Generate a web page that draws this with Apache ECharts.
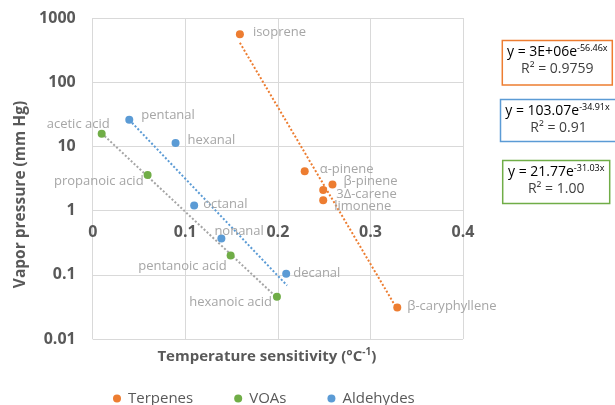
<!DOCTYPE html>
<html>
<head>
<meta charset="utf-8">
<script src="https://cdn.jsdelivr.net/npm/echarts@6/dist/echarts.min.js"></script>
<style>
html,body{margin:0;padding:0;background:#fff;}
#c{width:615px;height:405px;}
</style>
</head>
<body>
<div id="c"></div>
<script>
// ---- data ----
const terpeneNames = ['isoprene', 'α-pinene', 'β-pinene', '3Δ-carene', 'limonene', 'β-caryphyllene'];
const terpeneX = [0.159, 0.229, 0.259, 0.249, 0.249, 0.329];
const terpeneY = [557, 4.1, 2.55, 2.1, 1.45, 0.031];

const voaNames = ['acetic acid', 'propanoic acid', 'pentanoic acid', 'hexanoic acid'];
const voaX = [0.0097, 0.0593, 0.149, 0.199];
const voaY = [15.8, 3.6, 0.199, 0.0457];

const aldNames = ['pentanal', 'hexanal', 'octanal', 'nonanal', 'decanal'];
const aldX = [0.0395, 0.0895, 0.1096, 0.139, 0.209];
const aldY = [26.1, 11.3, 1.2, 0.366, 0.104];

// trendline end points (as drawn in the reference)
const terpeneTrendX = [0.159, 0.329];
const terpeneTrendY = [410, 0.029];
const voaTrendX = [0.0097, 0.199];
const voaTrendY = [16.0, 0.044];
const aldTrendX = [0.0395, 0.21];
const aldTrendY = [25.9, 0.068];

const xTickLabels = ['0', '0.1', '0.2', '0.3', '0.4'];
const yTickLabels = ['0.01', '0.1', '1', '10', '100', '1000'];

const legendNames = ['Terpenes', 'VOAs', 'Aldehydes'];
const equations = [
  {main: 'y = 3E+06e', sup: '-56.46x', r2: 'R² = 0.9759'},
  {main: 'y = 103.07e', sup: '-34.91x', r2: 'R² = 0.91'},
  {main: 'y = 21.77e', sup: '-31.03x', r2: 'R² = 1.00'}
];

// ---- styling ----
const COLORS = {Terpenes: '#ED7D31', VOAs: '#70AD47', Aldehydes: '#5B9BD5'};
const FONT = 'Open Sans';
const SYM = 8;
// label anchor relative to point centre: [dx, dy, align]
const labelPos = {
  'isoprene': [13, -2, 'left'],
  'α-pinene': [15, -2, 'left'],
  'β-pinene': [11, -3, 'left'],
  '3Δ-carene': [13, 4, 'left'],
  'limonene': [11, 6, 'left'],
  'β-caryphyllene': [10, -1, 'left'],
  'pentanal': [12, -4, 'left'],
  'hexanal': [12, -3, 'left'],
  'octanal': [9, -1, 'left'],
  'nonanal': [-7, -7, 'left'],
  'decanal': [7, 0, 'left'],
  'acetic acid': [8, -9, 'right'],
  'propanoic acid': [-4, 6, 'right'],
  'pentanoic acid': [-4, 11, 'right'],
  'hexanoic acid': [-5, 6, 'right']
};

function pts(names, xs, ys) {
  return names.map((n, i) => {
    const p = labelPos[n] || [8, 0, 'left'];
    return {
      name: n,
      value: [xs[i], ys[i]],
      label: {position: [p[0] + SYM / 2, p[1] + SYM / 2], align: p[2], verticalAlign: 'middle'}
    };
  });
}
function line(xs, ys) { return xs.map((x, i) => [x, ys[i]]); }

const labelStyle = {
  show: true,
  formatter: '{b}',
  color: '#A6A6A6',
  fontFamily: FONT,
  fontSize: 13
};

function scatter(name, names, xs, ys) {
  return {
    name: name, type: 'scatter', symbol: 'circle', symbolSize: SYM,
    itemStyle: {color: COLORS[name], opacity: 1},
    label: labelStyle,
    labelLayout: {hideOverlap: false},
    emphasis: {disabled: true},
    z: 5,
    data: pts(names, xs, ys)
  };
}
function trend(color, xs, ys) {
  return {
    type: 'line', showSymbol: false, symbol: 'none', silent: true,
    lineStyle: {color: color, width: 2, type: [2, 2]},
    z: 3,
    data: line(xs, ys)
  };
}

const GRID = {left: 92.7, right: 152, top: 18, bottom: 66};
const plotH = 405 - GRID.top - GRID.bottom;
const oneOffset = -(plotH * 2 / 5);

const boxes = [
  {x: 502.3, y: 40.5, w: 110, h: 44.5, color: COLORS.Terpenes},
  {x: 500.5, y: 99.5, w: 116, h: 42, color: COLORS.Aldehydes},
  {x: 502.7, y: 160.5, w: 107, h: 43, color: COLORS.VOAs}
];
const graphic = [];
boxes.forEach((b, i) => {
  const e = equations[i];
  graphic.push({
    type: 'rect', shape: {x: b.x, y: b.y, width: b.w, height: b.h},
    style: {fill: '#fff', stroke: b.color, lineWidth: 1.5}, z: 10
  });
  graphic.push({
    type: 'text', x: b.x + b.w / 2 + (i === 1 ? -1 : 0), y: b.y + 12, z: 11,
    style: {
      text: '{m|' + e.main + '}{s|' + e.sup + '}',
      align: 'center', verticalAlign: 'middle',
      rich: {
        m: {fontFamily: FONT, fontSize: 14, color: '#404040', lineHeight: 18},
        s: {fontFamily: FONT, fontSize: 9, color: '#404040', lineHeight: 10, verticalAlign: 'top'}
      }
    }
  });
  graphic.push({
    type: 'text', x: b.x + b.w / 2, y: b.y + 29, z: 11,
    style: {
      text: e.r2, align: 'center', verticalAlign: 'middle',
      fontFamily: FONT, fontSize: 14, fill: '#404040'
    }
  });
});

const chart = echarts.init(document.getElementById('c'), null, {renderer: 'canvas'});
chart.setOption({
  animation: false,
  backgroundColor: '#fff',
  grid: Object.assign({containLabel: false, outerBoundsMode: 'none'}, GRID),
  legend: {
    data: legendNames.map(n => ({name: n, icon: 'circle', itemStyle: {color: COLORS[n]}})),
    left: 108, top: 386,
    itemWidth: 8, itemHeight: 8, itemGap: 41,
    textStyle: {fontFamily: FONT, fontSize: 15, color: '#595959', padding: [0, 0, 0, 2]},
    selectedMode: false
  },
  xAxis: [
    {
      type: 'value', min: 0, max: 0.4, interval: 0.1, position: 'bottom',
      name: '{b|Temperature sensitivity (°C}{s|-1}{b|)}',
      nameLocation: 'middle', nameGap: 8,
      nameTextStyle: {
        padding: [0, 22, 0, 0],
        rich: {
          b: {fontFamily: FONT, fontSize: 15, fontWeight: 'bold', color: '#595959', lineHeight: 20},
          s: {fontFamily: FONT, fontSize: 10, fontWeight: 'bold', color: '#595959', lineHeight: 10, verticalAlign: 'top'}
        }
      },
      axisLine: {show: false}, axisTick: {show: false}, axisLabel: {show: false},
      splitLine: {show: true, lineStyle: {color: '#D9D9D9', width: 1}}
    },
    {
      type: 'value', min: 0, max: 0.4, interval: 0.1, position: 'bottom', offset: oneOffset,
      axisLine: {show: false}, axisTick: {show: false},
      splitLine: {show: false},
      axisLabel: {
        show: true, margin: 14,
        fontFamily: FONT, fontSize: 16, fontWeight: 'bold', color: '#595959',
        formatter: (v) => xTickLabels[Math.round(v * 10)]
      }
    }
  ],
  yAxis: {
    type: 'log', logBase: 10, min: 0.01, max: 1000,
    name: 'Vapor pressure (mm Hg)', nameLocation: 'middle', nameGap: 62,
    nameTextStyle: {fontFamily: FONT, fontSize: 15.5, fontWeight: 'bold', color: '#595959', padding: [0, 32, 0, 0]},
    axisLine: {show: false}, axisTick: {show: false},
    axisLabel: {
      margin: 17, fontFamily: FONT, fontSize: 16, fontWeight: 'bold', color: '#595959',
      formatter: (v) => yTickLabels[Math.round(Math.log10(v)) + 2]
    },
    splitLine: {show: true, lineStyle: {color: '#D9D9D9', width: 1}},
    minorTick: {show: false}
  },
  series: [
    trend(COLORS.Terpenes, terpeneTrendX, terpeneTrendY),
    trend('#A5A5A5', voaTrendX, voaTrendY),
    trend(COLORS.Aldehydes, aldTrendX, aldTrendY),
    scatter('Terpenes', terpeneNames, terpeneX, terpeneY),
    scatter('VOAs', voaNames, voaX, voaY),
    scatter('Aldehydes', aldNames, aldX, aldY)
  ],
  graphic: graphic
});
</script>
</body>
</html>
